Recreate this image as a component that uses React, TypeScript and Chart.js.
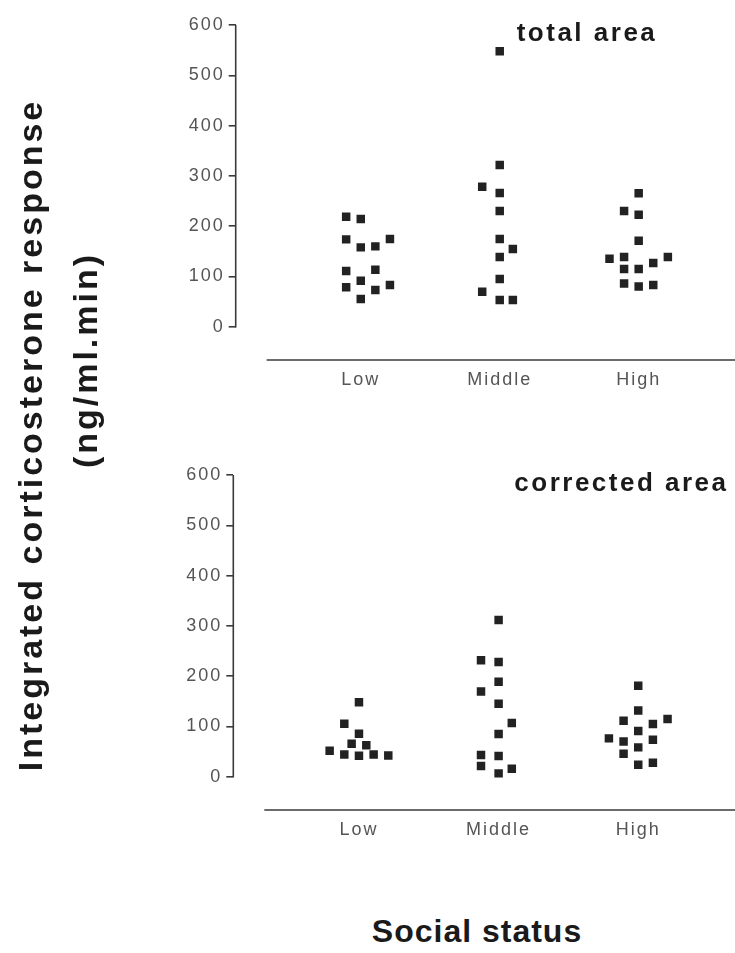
import React, { useEffect, useRef } from "react";
import { Chart, registerables } from "chart.js";

Chart.register(...registerables);

// Group names on the x axis and the value ticks on the y axis
const CATEGORIES = ["Low", "Middle", "High"];
const Y_TICKS = [0, 100, 200, 300, 400, 500, 600];

// Total area (ng/ml.min) per animal, with the horizontal jitter slot of each square
const TOTAL_LOW = [218.8, 214.2, 173.8, 157.9, 159.9, 174.4, 110.8, 113.4, 91.5, 78.4, 73, 82.9, 55.1];
const TOTAL_LOW_SLOT = [-1, 0, -1, 0, 1, 2, -1, 1, 0, -1, 1, 2, 0];
const TOTAL_MIDDLE = [548, 321.6, 278.4, 265.9, 230, 174.4, 154.5, 138.6, 94.9, 69.6, 53.1, 53.1];
const TOTAL_MIDDLE_SLOT = [0, 0, -1.2, 0, 0, 0, 0.9, 0, 0, -1.2, 0, 0.9];
const TOTAL_HIGH = [265.3, 230.1, 222.8, 171, 135.2, 138.6, 138.6, 126.7, 114.8, 114.8, 86.3, 80.3, 82.9];
const TOTAL_HIGH_SLOT = [0, -1, 0, 0, -2, -1, 2, 1, -1, 0, -1, 0, 1];

// Corrected area (ng/ml.min) per animal
const CORR_LOW = [148, 105.5, 85.6, 65.7, 62.5, 51.7, 44.5, 42, 44.5, 42.5];
const CORR_LOW_SLOT = [0, -1, 0, -0.5, 0.5, -2, -1, 0, 1, 2];
const CORR_MIDDLE = [311.7, 231.5, 228.1, 188.9, 169.8, 145.2, 106.8, 84.9, 43.2, 21.3, 41.2, 15.9, 6.8];
const CORR_MIDDLE_SLOT = [0, -1.2, 0, 0, -1.2, 0, 0.9, 0, -1.2, -1.2, 0, 0.9, 0];
const CORR_HIGH = [181, 132, 111.4, 114.8, 104.8, 91, 76.4, 70.4, 73.6, 58.5, 45.7, 24, 28];
const CORR_HIGH_SLOT = [0, 0, -1, 2, 1, 0, -2, -1, 1, 0, -1, 0, 1];

const SLOT = 0.105; // x-units between neighbouring squares in a group
const FONT = "'Liberation Sans', Arial, Helvetica, sans-serif";
const INK = "#222";
const AXIS = "#3a3a3a";
const LABEL = "#555";

type Group = { values: number[]; slots: number[] };

function makePanel(canvas: HTMLCanvasElement, title: string, groups: Group[], chartLeft: number) {
  const datasets = groups.map((g, gi) => ({
    label: CATEGORIES[gi],
    data: g.values.map((v, i) => ({ x: gi + 1 + g.slots[i] * SLOT, y: v })),
    pointStyle: "rect" as const,
    pointRadius: 6,
    pointHoverRadius: 6,
    backgroundColor: INK,
    borderWidth: 0,
    showLine: false,
  }));

  const axesPlugin = {
    id: "panelAxes",
    beforeDraw(chart: any) {
      chart.ctx.letterSpacing = "2px";
    },
    afterDraw(chart: any) {
      const { ctx, chartArea, scales } = chart;
      const y = scales.y;
      ctx.save();
      ctx.letterSpacing = "0px";
      ctx.strokeStyle = AXIS;
      ctx.lineWidth = 1.6;
      // value axis only spans the 0–600 range
      ctx.beginPath();
      ctx.moveTo(chartArea.left, y.getPixelForValue(0) + 0.8);
      ctx.lineTo(chartArea.left, y.getPixelForValue(600));
      ctx.stroke();
      // detached category baseline
      ctx.beginPath();
      ctx.moveTo(chartArea.left + 31, chartArea.bottom);
      ctx.lineTo(chart.width, chartArea.bottom);
      ctx.stroke();
      // panel heading
      ctx.font = `bold 26px ${FONT}`;
      ctx.letterSpacing = "2.5px";
      ctx.fillStyle = "#1a1a1a";
      ctx.textAlign = "left";
      ctx.textBaseline = "alphabetic";
      ctx.fillText(title, chartArea.left + 281, chartArea.top + 16);
      ctx.restore();
    },
  };

  return new Chart(canvas, {
    type: "scatter",
    data: { datasets },
    plugins: [axesPlugin],
    options: {
      animation: false,
      responsive: false,
      events: [],
      layout: { padding: { left: chartLeft - 60, right: 2, top: 25, bottom: 20 } },
      plugins: { legend: { display: false }, tooltip: { enabled: false }, title: { display: false } },
      scales: {
        x: {
          type: "linear",
          min: 0.1,
          max: 3.65,
          afterBuildTicks: (scale: any) => {
            scale.ticks = CATEGORIES.map((_, i) => ({ value: i + 1 }));
          },
          afterFit: (scale: any) => {
            scale.height = 40;
          },
          grid: { display: false, drawTicks: false },
          border: { display: false },
          ticks: {
            autoSkip: false,
            maxRotation: 0,
            padding: 9,
            color: LABEL,
            font: { family: FONT, size: 18 },
            callback: (v: any) => CATEGORIES[Math.round(Number(v)) - 1] ?? "",
          },
        },
        y: {
          type: "linear",
          min: -66,
          max: 600,
          afterBuildTicks: (scale: any) => {
            scale.ticks = Y_TICKS.map((v) => ({ value: v }));
          },
          afterFit: (scale: any) => {
            scale.width = 60;
          },
          grid: {
            display: true,
            drawOnChartArea: false,
            drawTicks: true,
            tickLength: 7,
            color: AXIS,
            lineWidth: 1.6,
          },
          border: { display: false },
          ticks: {
            padding: 4,
            color: LABEL,
            font: { family: FONT, size: 18 },
          },
        },
      },
    },
  } as any);
}

export default function App() {
  const topRef = useRef<HTMLCanvasElement>(null);
  const bottomRef = useRef<HTMLCanvasElement>(null);

  useEffect(() => {
    const top = makePanel(
      topRef.current!,
      "total area",
      [
        { values: TOTAL_LOW, slots: TOTAL_LOW_SLOT },
        { values: TOTAL_MIDDLE, slots: TOTAL_MIDDLE_SLOT },
        { values: TOTAL_HIGH, slots: TOTAL_HIGH_SLOT },
      ],
      235.7
    );
    const bottom = makePanel(
      bottomRef.current!,
      "corrected area",
      [
        { values: CORR_LOW, slots: CORR_LOW_SLOT },
        { values: CORR_MIDDLE, slots: CORR_MIDDLE_SLOT },
        { values: CORR_HIGH, slots: CORR_HIGH_SLOT },
      ],
      233.3
    );
    return () => {
      top.destroy();
      bottom.destroy();
    };
  }, []);

  const rotated = {
    position: "absolute" as const,
    transform: "rotate(-90deg)",
    transformOrigin: "50% 50%",
    textAlign: "center" as const,
    fontWeight: "bold" as const,
    fontSize: 34,
    lineHeight: "40px",
    letterSpacing: "3px",
    color: "#1a1a1a",
    whiteSpace: "nowrap" as const,
    height: 40,
  };

  return (
    <div
      style={{
        position: "absolute",
        left: 0,
        top: 0,
        width: 735,
        height: 953,
        background: "#fff",
        overflow: "hidden",
        fontFamily: FONT,
      }}
    >
      <canvas ref={topRef} width={735} height={420} style={{ position: "absolute", left: 0, top: 0, width: 735, height: 420 }} />
      <canvas ref={bottomRef} width={735} height={420} style={{ position: "absolute", left: 0, top: 450, width: 735, height: 420 }} />
      <div style={{ ...rotated, left: 30 - 360, top: 435 - 20, width: 720 }}>Integrated corticosterone response</div>
      <div style={{ ...rotated, left: 85 - 200, top: 360 - 20, width: 400 }}>(ng/ml.min)</div>
      <div
        style={{
          position: "absolute",
          left: 277,
          top: 915,
          width: 400,
          textAlign: "center",
          fontWeight: "bold",
          fontSize: 32,
          lineHeight: "32px",
          letterSpacing: "1px",
          color: "#1a1a1a",
          whiteSpace: "nowrap",
        }}
      >
        Social status
      </div>
    </div>
  );
}
